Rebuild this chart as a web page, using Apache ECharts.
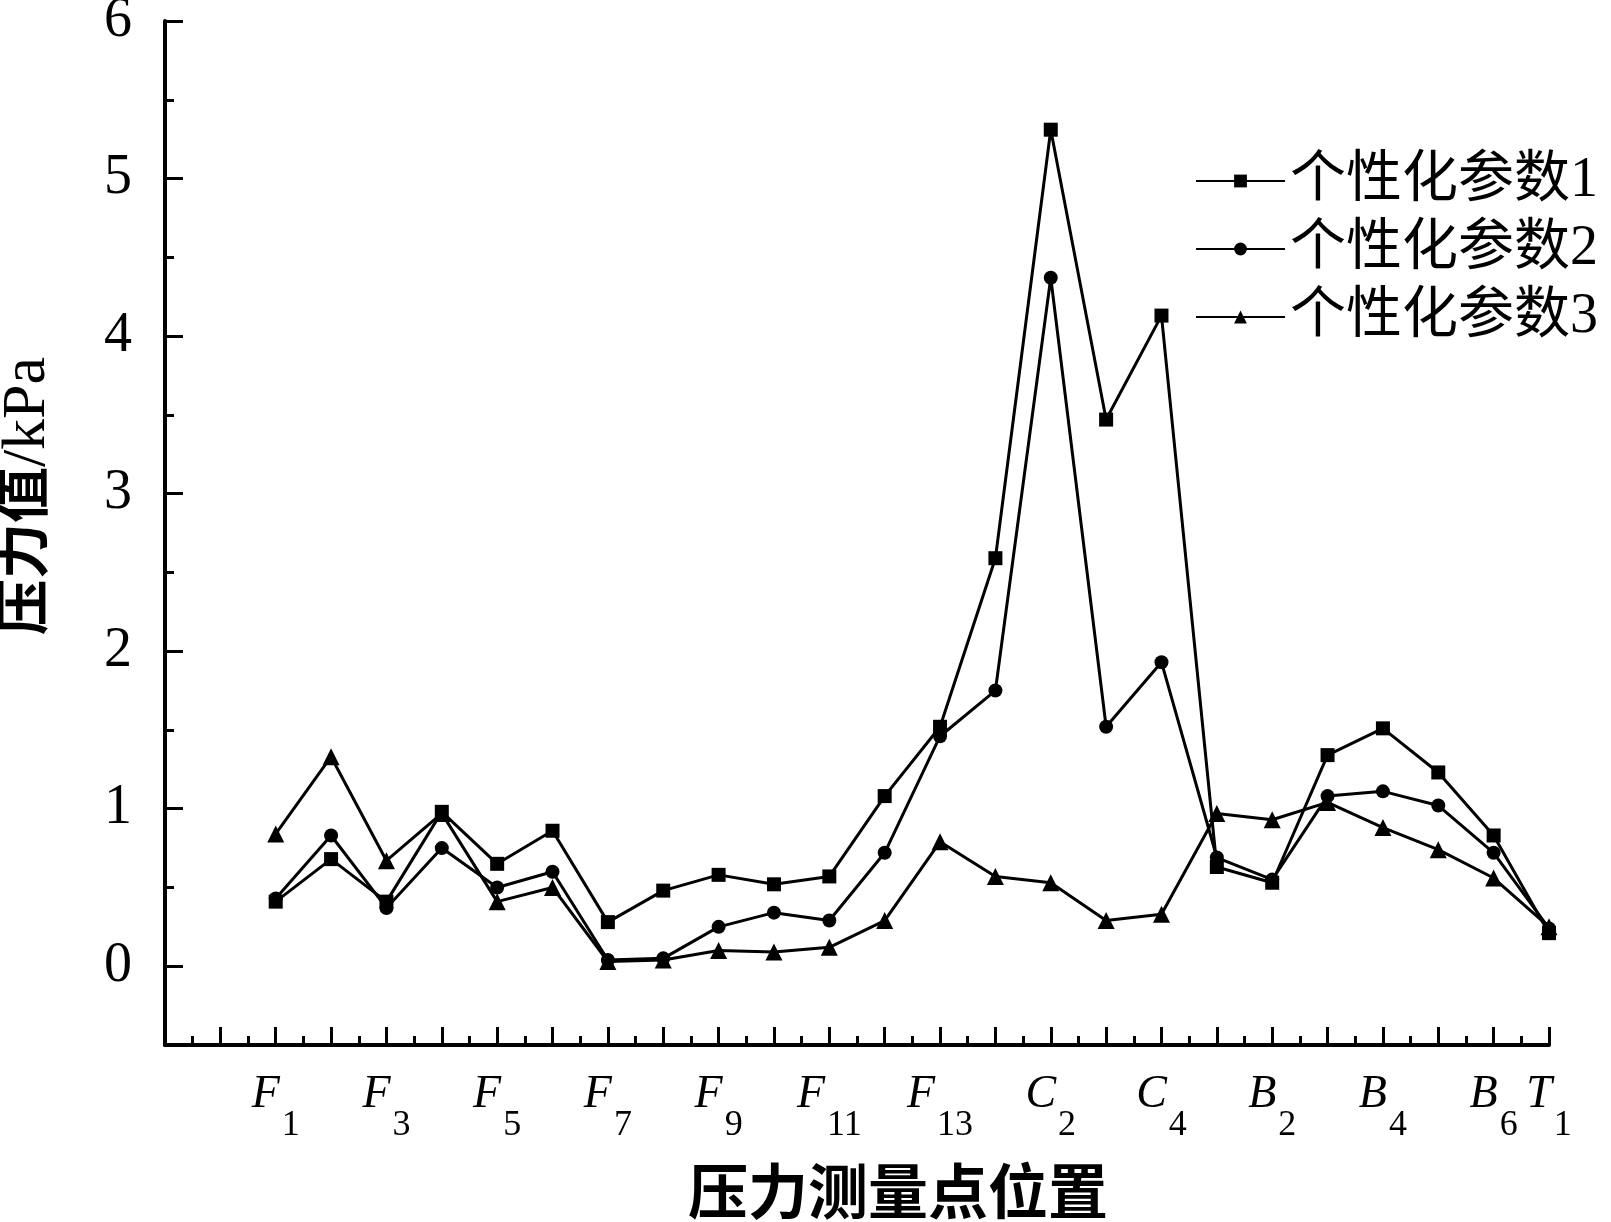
<!DOCTYPE html>
<html><head><meta charset="utf-8">
<script src="https://cdn.jsdelivr.net/npm/echarts@6/dist/echarts.min.js"></script>
<style>html,body{margin:0;padding:0;background:#fff}#chart{width:1611px;height:1222px}</style>
</head><body><div id="chart"></div>
<script>
// Measurement points (in order along the x axis)
const categories = ['F1','F2','F3','F4','F5','F6','F7','F8','F9','F10','F11','F12','F13',
                    'C1','C2','C3','C4','B1','B2','B3','B4','B5','B6','T1'];
// Labels printed under the axis
const tickLabels = ['F1','F3','F5','F7','F9','F11','F13','C2','C4','B2','B4','B6','T1'];
// Empty category slots before F1 on the axis
const leadSlots = 2;
const yTickLabels = [0, 1, 2, 3, 4, 5, 6];
const seriesNames = ['个性化参数1', '个性化参数2', '个性化参数3'];
// 压力值 / kPa
const param1 = [0.41,0.68,0.41,0.98,0.65,0.86,0.28,0.48,0.58,0.52,0.57,1.08,1.52,
                2.59,5.31,3.47,4.13,0.63,0.53,1.34,1.51,1.23,0.83,0.21];
const param2 = [0.43,0.83,0.37,0.75,0.50,0.60,0.04,0.05,0.25,0.34,0.29,0.72,1.46,
                1.75,4.37,1.52,1.93,0.69,0.55,1.08,1.11,1.02,0.72,0.24];
const param3 = [0.84,1.33,0.67,0.97,0.41,0.50,0.03,0.04,0.10,0.09,0.12,0.29,0.79,
                0.57,0.53,0.29,0.33,0.97,0.93,1.04,0.88,0.74,0.56,0.25];

const SERIF = "'Liberation Serif','Times New Roman',serif";
const MIXED = "'Liberation Serif','Noto Sans CJK SC',serif";

const chart = echarts.init(document.getElementById('chart'), null, {renderer: 'canvas'});
const toXY = arr => categories.map((c, i) => [i + leadSlots, arr[i]]);
const symbols = ['rect', 'circle', 'triangle'];
const symbolSizes = [14, 14, 17];
const seriesData = [param1, param2, param3];

chart.setOption({
  animation: false,
  backgroundColor: '#fff',
  grid: {left: 165, right: 62, top: 21, bottom: 177, containLabel: false, outerBoundsMode: 'none'},
  legend: {
    orient: 'vertical', left: 1190, top: 148,
    itemWidth: 89, itemHeight: 16, itemGap: 12,
    textStyle: {fontFamily: MIXED, fontSize: 56, lineHeight: 56, color: '#000'},
    data: seriesNames
  },
  xAxis: {
    type: 'value', min: 0, max: leadSlots + categories.length - 1, interval: 1,
    axisLine: {show: true, onZero: false, lineStyle: {color: '#000', width: 4}},
    axisTick: {show: true, inside: true, length: 18, lineStyle: {color: '#000', width: 3}},
    minorTick: {show: true, splitNumber: 2, length: 9, lineStyle: {color: '#000', width: 3}},
    splitLine: {show: false},
    axisLabel: {
      margin: 40,
      formatter: v => {
        const name = categories[v - leadSlots];
        if (!name || tickLabels.indexOf(name) < 0) return '';
        return '{l|' + name[0] + '}{s|' + name.slice(1) + '}';
      },
      rich: {
        l: {fontFamily: SERIF, fontStyle: 'italic', fontSize: 46, lineHeight: 46, padding: [0, 0, 26, 0], color: '#000'},
        s: {fontFamily: SERIF, fontSize: 36, lineHeight: 36, padding: [36, 0, 0, 2], color: '#000'}
      }
    },
    name: '压力测量点位置', nameLocation: 'middle', nameGap: 123,
    nameTextStyle: {fontFamily: MIXED, fontSize: 60, fontWeight: 'bold', color: '#000', padding: [0, 0, 0, 82]}
  },
  yAxis: [{
    type: 'value', min: -0.5, max: 6, splitNumber: 6, position: 'left',
    axisLine: {show: true, onZero: false, lineStyle: {color: '#000', width: 4}},
    axisTick: {show: true, inside: true, length: 18, lineStyle: {color: '#000', width: 3}},
    splitLine: {show: false},
    axisLabel: {
      margin: 33, fontFamily: SERIF, fontSize: 56, color: '#000',
      formatter: v => yTickLabels.indexOf(v) >= 0 ? String(v) : ''
    },
    name: '{c|压力值}{e|/kPa}', nameLocation: 'middle', nameGap: 108, nameRotate: 90,
    nameTextStyle: {
      color: '#000', padding: [0, 0, 0, 74],
      rich: {
        c: {fontFamily: MIXED, fontSize: 56, fontWeight: 'bold', color: '#000', lineHeight: 58},
        e: {fontFamily: SERIF, fontSize: 62, color: '#000', lineHeight: 58}
      }
    }
  }, {
    type: 'value', min: -0.5, max: 6, interval: 0.5, position: 'left',
    axisLine: {show: false, onZero: false},
    axisTick: {show: true, inside: true, length: 9, lineStyle: {color: '#000', width: 3}},
    axisLabel: {show: false},
    splitLine: {show: false}
  }],
  series: seriesData.map((d, k) => ({
    name: seriesNames[k], type: 'line', yAxisIndex: 0,
    data: toXY(d),
    symbol: symbols[k], symbolSize: symbolSizes[k], showAllSymbol: true,
    lineStyle: {color: '#000', width: 3},
    itemStyle: {color: '#000'},
    emphasis: {disabled: true}
  }))
});
</script></body></html>
